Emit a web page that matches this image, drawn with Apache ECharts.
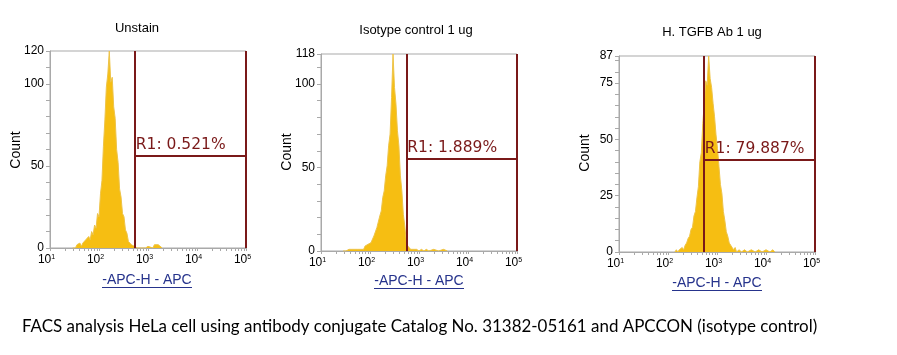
<!DOCTYPE html>
<html><head><meta charset="utf-8">
<script src="https://cdn.jsdelivr.net/npm/echarts@6/dist/echarts.min.js"></script>
<style>html,body{margin:0;padding:0;background:#fff}#c{width:897px;height:355px}</style>
</head><body><div id="c"></div>
<script>
// ---------- data ----------
const panelTitles = ['Unstain', 'Isotype control 1 ug', 'H. TGFB Ab 1 ug'];
const xAxisTitle = '-APC-H - APC';
const yAxisTitle = 'Count';
const caption = 'FACS analysis HeLa cell using antibody conjugate Catalog No. 31382-05161 and APCCON (isotype control)';

// x positions are log10 of APC-H fluorescence
const xDecadeExponents = [1, 2, 3, 4, 5];
const xMinorMultipliers = [2, 3, 4, 5, 6, 7, 8, 9];

const logFluor1 = [1.46,1.49,1.52,1.55,1.58,1.61,1.64,1.67,1.70,1.73,1.76,1.79,1.82,1.85,1.88,1.91,1.94,1.97,2.00,2.03,2.06,2.09,2.12,2.15,2.18,2.21,2.24,2.27,2.30,2.33,2.36,2.39,2.42,2.45,2.48,2.51,2.54,2.57,2.60,2.63,2.66,2.69,2.72,2.75,2.78,2.81,2.84,2.95,3.00,3.04,3.10,3.13,3.17,3.21,3.25,3.29];
const count1    = [0,1,0,2,1,3,1,3,2,5,4,7,5,10,8,14,12,21,19,33,41,62,78,98,106,120,101,104,86,79,60,52,36,31,21,19,11,9,4,5,2,3,1,2,0,1,0,0,1,0,0,2,1,2,1,0];

const logFluor2 = [1.45,1.48,1.51,1.54,1.57,1.60,1.63,1.66,1.69,1.72,1.75,1.78,1.81,1.84,1.87,1.90,1.93,1.96,1.99,2.02,2.05,2.08,2.11,2.14,2.17,2.20,2.23,2.26,2.29,2.32,2.35,2.38,2.41,2.44,2.47,2.50,2.53,2.56,2.59,2.62,2.65,2.68,2.71,2.74,2.77,2.80,2.83,2.86,2.90,2.95,3.00,3.05,3.10,3.15,3.20,3.30,3.40,3.50,3.58];
const count2    = [0,1,0,0,1,0,1,0,1,0,1,2,1,2,1,3,2,4,3,5,6,9,8,14,13,21,24,32,36,45,51,63,70,92,118,98,88,72,63,45,36,22,15,6,3,2,1,2,1,1,0,1,0,1,0,1,0,1,0];

const logFluor3 = [2.14,2.17,2.20,2.23,2.26,2.29,2.32,2.35,2.38,2.41,2.44,2.47,2.50,2.53,2.56,2.59,2.62,2.65,2.68,2.71,2.74,2.77,2.80,2.83,2.86,2.89,2.92,2.95,2.98,3.01,3.04,3.07,3.10,3.13,3.16,3.19,3.22,3.25,3.28,3.31,3.34,3.37,3.40,3.45,3.50,3.56,3.62,3.70,3.78,3.85,3.92,4.00,4.08,4.14,4.18];
const count3    = [0,1,0,1,1,2,1,3,4,6,7,10,11,16,18,24,29,40,44,57,66,76,74,87,77,73,66,60,52,46,38,30,26,18,14,9,7,4,3,2,1,2,0,1,0,1,0,1,0,1,0,1,0,1,0];

const yMax = [120, 118, 87];
const yLabelValues1 = [0, 50, 100, 120];
const yLabelValues2 = [0, 50, 100, 118];
const yLabelValues3 = [0, 25, 50, 75, 87];
const yTickValues1 = [0,10,20,30,40,50,60,70,80,90,100,110,120];
const yTickValues2 = [0,10,20,30,40,50,60,70,80,90,100,110,118];
const yTickValues3 = [0,5,10,15,20,25,30,35,40,45,50,55,60,65,70,75,80,85,87];

// gate R1 (log10 lower / upper bound, marker level, text)
const gateLow = [2.73, 2.74, 2.73];
const gateHigh = [5, 5, 5];
const gateLevel = [56, 55, 41];
const gateLabels = ['R1: 0.521%', 'R1: 1.889%', 'R1: 79.887%'];

// ---------- layout / style ----------
const grids = [
  {left: 50, top: 51, width: 196, height: 197},
  {left: 321, top: 54, width: 196, height: 197},
  {left: 619, top: 56, width: 196, height: 196}
];
const titlePos = [[137, 28], [416, 30], [712, 32]];
const countPos = [[16, 150], [287, 152], [585, 153]];
const xTitlePos = [[147, 280], [419, 281], [717, 283]];
const AX = '#a9a9a9';
const GATE = '#7a1919';
const SANS = '"Liberation Sans", Arial, sans-serif';

const xs = [logFluor1, logFluor2, logFluor3];
const cs = [count1, count2, count3];
const yLabs = [yLabelValues1, yLabelValues2, yLabelValues3];
const yTicks = [yTickValues1, yTickValues2, yTickValues3];

const xTickValues = [];
xDecadeExponents.forEach((e, k) => {
  xTickValues.push(e);
  if (k < xDecadeExponents.length - 1) xMinorMultipliers.forEach(m => xTickValues.push(e + Math.log10(m)));
});

const chart = echarts.init(document.getElementById('c'), null, {renderer: 'canvas'});

const gridOpt = grids.map(g => ({...g, show: true, borderColor: AX, borderWidth: 1, backgroundColor: 'transparent', containLabel: false}));

const xAxes = grids.map((g, i) => ({
  type: 'value', gridIndex: i, min: 1, max: 5,
  axisLine: {show: true, lineStyle: {color: AX, width: 1}},
  axisTick: {show: true, length: 3, lineStyle: {color: AX}, customValues: xTickValues},
  splitLine: {show: false},
  axisLabel: {
    customValues: xDecadeExponents, margin: 6, color: '#000', fontFamily: SANS, fontSize: 12,
    padding: [0, 7, 0, 0],
    formatter: v => '10{s|' + v + '}',
    rich: {s: {fontSize: 7, fontFamily: SANS, color: '#000', verticalAlign: 'top', lineHeight: 8}}
  }
}));

const yAxes = grids.map((g, i) => ({
  type: 'value', gridIndex: i, min: 0, max: yMax[i],
  axisLine: {show: true, lineStyle: {color: AX, width: 1}},
  axisTick: {show: true, length: 4, lineStyle: {color: AX}, customValues: yTicks[i]},
  splitLine: {show: false},
  axisLabel: {customValues: yLabs[i], margin: 6, color: '#000', fontFamily: SANS, fontSize: 12}
}));

const series = grids.map((g, i) => ({
  type: 'line', xAxisIndex: i, yAxisIndex: i,
  data: xs[i].map((x, k) => [x, cs[i][k]]),
  showSymbol: false, symbol: 'none', smooth: false,
  lineStyle: {color: '#EDC348', width: 1},
  areaStyle: {color: '#F6BE12', opacity: 1},
  z: 2,
  markLine: {
    silent: true, symbol: ['none', 'none'], animation: false,
    lineStyle: {color: GATE, width: 2, type: 'solid'},
    label: {show: false},
    emphasis: {disabled: true},
    data: [
      [{coord: [gateLow[i], 0]}, {coord: [gateLow[i], yMax[i]]}],
      [{coord: [gateHigh[i], 0]}, {coord: [gateHigh[i], yMax[i]]}],
      [{coord: [gateLow[i], gateLevel[i]],
        label: {show: true, position: 'insideStartTop', formatter: gateLabels[i], distance: [1, 3],
                color: GATE, fontFamily: '"DejaVu Sans", Verdana, sans-serif', fontSize: 15.5}},
       {coord: [gateHigh[i], gateLevel[i]]}]
    ]
  }
}));

const graphics = [];
panelTitles.forEach((t, i) => {
  graphics.push({type: 'text', x: titlePos[i][0], y: titlePos[i][1],
    style: {text: t, fill: '#000', font: '13px ' + SANS, textAlign: 'center', textVerticalAlign: 'middle'}});
  graphics.push({type: 'text', x: countPos[i][0], y: countPos[i][1], rotation: Math.PI / 2,
    style: {text: yAxisTitle, fill: '#000', font: '14px ' + SANS, textAlign: 'center', textVerticalAlign: 'middle'}});
  graphics.push({type: 'text', x: xTitlePos[i][0], y: xTitlePos[i][1],
    style: {text: xAxisTitle, fill: '#26338c', font: '14px ' + SANS, textAlign: 'center', textVerticalAlign: 'middle'}});
  graphics.push({type: 'line', shape: {x1: xTitlePos[i][0] - 45, y1: xTitlePos[i][1] + 7.5, x2: xTitlePos[i][0] + 45, y2: xTitlePos[i][1] + 7.5},
    style: {stroke: '#26338c', lineWidth: 1}});
});
// caption, sized to span the same width as in the reference
const CAPF = 'Lato, "Open Sans", sans-serif';
const ctx = document.createElement('canvas').getContext('2d');
ctx.font = '20px ' + CAPF;
const capSize = Math.min(20, 20 * 796 / ctx.measureText(caption).width);
graphics.push({type: 'text', x: 22, y: 327,
  style: {text: caption, fill: '#000', font: capSize.toFixed(2) + 'px ' + CAPF, textAlign: 'left', textVerticalAlign: 'middle'}});

chart.setOption({
  animation: false,
  backgroundColor: '#fff',
  grid: gridOpt, xAxis: xAxes, yAxis: yAxes, series: series, graphic: graphics
});
</script></body></html>
